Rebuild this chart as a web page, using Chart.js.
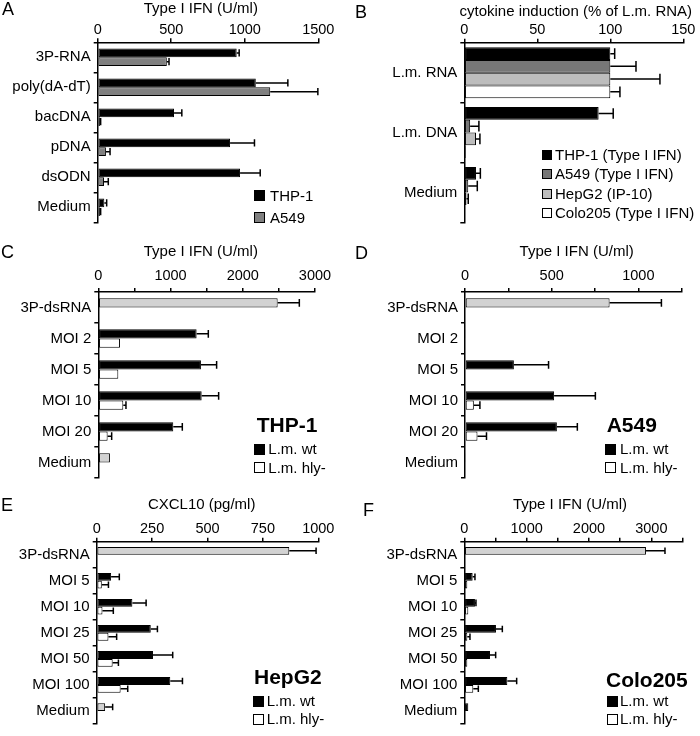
<!DOCTYPE html>
<html>
<head>
<meta charset="utf-8">
<script src="https://cdn.jsdelivr.net/npm/chart.js@4.4.0/dist/chart.umd.min.js"></script>
<style>
  body { margin: 0; background: #fff; width: 700px; height: 736px; overflow: hidden; position: relative;
         font-family: 'Liberation Sans', Arial, sans-serif; color: #000; }
  canvas { position: absolute; }
  .letter { position: absolute; font-size: 18px; line-height: 18px; }
  .title { position: absolute; width: 300px; text-align: center; font-size: 15px; line-height: 18px; white-space: nowrap; }
  .cell { position: absolute; font-size: 21px; font-weight: bold; line-height: 24px; white-space: nowrap; }
  .key { position: absolute; font-size: 15px; line-height: 18px; white-space: nowrap; }
  .sw { position: absolute; width: 9px; height: 9px; border: 1px solid #000; }
</style>
</head>
<body>
<canvas id="chartA" width="350" height="235" style="left:0;top:0"></canvas>
<canvas id="chartB" width="350" height="235" style="left:350px;top:0"></canvas>
<canvas id="chartC" width="350" height="250" style="left:0;top:240px"></canvas>
<canvas id="chartD" width="350" height="250" style="left:350px;top:240px"></canvas>
<canvas id="chartE" width="350" height="246" style="left:0;top:490px"></canvas>
<canvas id="chartF" width="350" height="246" style="left:350px;top:490px"></canvas>

<div class="letter" style="left:2px;top:0">A</div>
<div class="letter" style="left:355px;top:3px">B</div>
<div class="letter" style="left:1px;top:243px">C</div>
<div class="letter" style="left:355px;top:244px">D</div>
<div class="letter" style="left:1px;top:496px">E</div>
<div class="letter" style="left:363px;top:501px">F</div>

<script>
// ---- Panel A: Type I IFN (U/ml), THP-1 vs A549
const catsA = ['3P-RNA', 'poly(dA-dT)', 'bacDNA', 'pDNA', 'dsODN', 'Medium'];
const thp1A = [945, 1075, 519, 900, 968, 45];
const thp1ASd = [17, 218, 53, 166, 137, 16];
const a549A = [470, 1173, 15, 56, 43, 15];
const a549ASd = [15, 324, 5, 28, 29, 5];

// ---- Panel B: cytokine induction (% of L.m. RNA)
const catsB = ['L.m. RNA', 'L.m. DNA', 'Medium'];
const thp1B = [100, 92, 8];
const thp1BSd = [3, 10, 3];
const a549B = [100, 4, 2.7];
const a549BSd = [17.6, 6, 6.2];
const hepg2B = [100, 8, 1.5];
const hepg2BSd = [34, 2.7, 1.2];
const colo205B = [100, 1, 0.5];
const colo205BSd = [6.6, 0, 0];

// ---- Panel C: THP-1, Type I IFN (U/ml)
const catsC = ['3P-dsRNA', 'MOI 2', 'MOI 5', 'MOI 10', 'MOI 20', 'Medium'];
const wtC = [2483, 1361, 1421, 1431, 1038, 161];
const wtCSd = [300, 162, 217, 235, 125, 0];
const hlyC = [null, 300, 277, 346, 129, null];
const hlyCSd = [null, 0, 0, 37, 56, null];

// ---- Panel D: A549, Type I IFN (U/ml)
const catsD = ['3P-dsRNA', 'MOI 2', 'MOI 5', 'MOI 10', 'MOI 20', 'Medium'];
const wtD = [834, 3, 282, 514, 530, 3];
const wtDSd = [299, 0, 200, 238, 118, 0];
const hlyD = [null, 0, 0, 51, 72, null];
const hlyDSd = [null, 0, 0, 35, 52, null];

// ---- Panel E: HepG2, CXCL10 (pg/ml)
const catsE = ['3P-dsRNA', 'MOI 5', 'MOI 10', 'MOI 25', 'MOI 50', 'MOI 100', 'Medium'];
const wtE = [869, 65, 161, 244, 254, 332, 38];
const wtESd = [121, 37, 62, 30, 89, 55, 34];
const hlyE = [null, 23, 26, 53, 72, 108, null];
const hlyESd = [null, 30, 49, 37, 26, 32, null];

// ---- Panel F: Colo205, Type I IFN (U/ml)
const catsF = ['3P-dsRNA', 'MOI 5', 'MOI 10', 'MOI 25', 'MOI 50', 'MOI 100', 'Medium'];
const wtF = [2914, 134, 171, 508, 412, 690, 64];
const wtFSd = [305, 37, 16, 102, 91, 150, 0];
const hlyF = [null, 48, 64, 48, 48, 144, null];
const hlyFSd = [null, 0, 0, 43, 0, 81, null];

Chart.defaults.font.family = "'Liberation Sans', Arial, sans-serif";
Chart.defaults.color = '#000';
Chart.defaults.animation = false;

// horizontal error bars: line from the bar end out to value + sd, with a cap
const errorBars = {
  id: 'errorBars',
  afterDatasetsDraw(chart) {
    const ctx = chart.ctx;
    const xs = chart.scales.x;
    ctx.save();
    ctx.strokeStyle = '#000';
    ctx.lineWidth = 1.5;
    chart.data.datasets.forEach((ds, i) => {
      if (!ds.errors) return;
      chart.getDatasetMeta(i).data.forEach((bar, j) => {
        const v = ds.data[j], sd = ds.errors[j];
        if (v == null || !sd) return;
        const x1 = xs.getPixelForValue(v + sd);
        const half = bar.height * 0.42;
        ctx.beginPath();
        ctx.moveTo(bar.x, bar.y);
        ctx.lineTo(x1, bar.y);
        ctx.moveTo(x1, bar.y - half);
        ctx.lineTo(x1, bar.y + half);
        ctx.stroke();
      });
    });
    ctx.restore();
  }
};

function panel(id, cfg) {
  new Chart(document.getElementById(id), {
    type: 'bar',
    data: { labels: cfg.labels, datasets: cfg.datasets },
    options: {
      indexAxis: 'y',
      responsive: false,
      events: [],
      layout: { padding: { left: 0, top: 0, right: cfg.padRight, bottom: cfg.padBottom } },
      datasets: {
        bar: { categoryPercentage: cfg.catPct, barPercentage: 1, borderWidth: 1, borderColor: '#000', borderSkipped: false }
      },
      plugins: { legend: { display: false }, tooltip: { enabled: false } },
      scales: {
        x: {
          position: 'top',
          min: 0,
          max: cfg.max,
          afterFit: s => { s.height = cfg.axisTop; },
          border: { color: '#000', width: 1.5 },
          grid: { drawOnChartArea: false, color: '#000', lineWidth: 1.5, tickLength: 4 },
          ticks: {
            stepSize: cfg.step,
            autoSkip: false,
            maxRotation: 0,
            padding: cfg.tickPad,
            font: { size: 14.5 },
            callback: v => (v % cfg.labelStep === 0 ? v : '')
          }
        },
        y: {
          afterFit: s => { s.width = cfg.axisLeft; },
          border: { color: '#000', width: 1.5 },
          grid: { offset: true, drawOnChartArea: false, color: '#000', lineWidth: 1.5, tickLength: 4 },
          ticks: { autoSkip: false, padding: 3, font: { size: 15 } }
        }
      }
    },
    plugins: [errorBars]
  });
}

// first series is black except the control rows, which are light grey
function wtColors(values, greyRows, grey) {
  return values.map((v, i) => (greyRows.includes(i) ? grey : '#000'));
}

function pairSets(wt, wtSd, hly, hlySd, greyRows) {
  return [
    { label: 'L.m. wt', data: wt, errors: wtSd, backgroundColor: wtColors(wt, greyRows, '#d2d2d2') },
    { label: 'L.m. hly-', data: hly, errors: hlySd, backgroundColor: '#fff' }
  ];
}

panel('chartA', {
  labels: catsA,
  datasets: [
    { label: 'THP-1', data: thp1A, errors: thp1ASd, backgroundColor: '#000' },
    { label: 'A549', data: a549A, errors: a549ASd, backgroundColor: '#808080' }
  ],
  max: 1500, step: 500, labelStep: 500,
  axisLeft: 97.7, axisTop: 42.3, padRight: 31.7, padBottom: 12.7,
  catPct: 0.58, tickPad: 0
});

panel('chartB', {
  labels: catsB,
  datasets: [
    { label: 'THP-1 (Type I IFN)', data: thp1B, errors: thp1BSd, backgroundColor: '#000' },
    { label: 'A549 (Type I IFN)', data: a549B, errors: a549BSd, backgroundColor: '#777' },
    { label: 'HepG2 (IP-10)', data: hepg2B, errors: hepg2BSd, backgroundColor: '#bdbdbd' },
    { label: 'Colo205 (Type I IFN)', data: colo205B, errors: colo205BSd, backgroundColor: '#fff' }
  ],
  max: 150, step: 50, labelStep: 50,
  axisLeft: 114.3, axisTop: 42.8, padRight: 16.7, padBottom: 12.7,
  catPct: 0.85, tickPad: 0
});

panel('chartC', {
  labels: catsC,
  datasets: pairSets(wtC, wtCSd, hlyC, hlyCSd, [0, 5]),
  max: 3000, step: 500, labelStep: 1000,
  axisLeft: 98.3, axisTop: 52, padRight: 35, padBottom: 8,
  catPct: 0.6, tickPad: 3
});

panel('chartD', {
  labels: catsD,
  datasets: pairSets(wtD, wtDSd, hlyD, hlyDSd, [0]),
  max: 1250, step: 250, labelStep: 500,
  axisLeft: 115, axisTop: 52, padRight: 18.3, padBottom: 8,
  catPct: 0.6, tickPad: 3
});

panel('chartE', {
  labels: catsE,
  datasets: pairSets(wtE, wtESd, hlyE, hlyESd, [0, 6]),
  max: 1000, step: 250, labelStep: 250,
  axisLeft: 96.7, axisTop: 51.7, padRight: 31.7, padBottom: 1.8,
  catPct: 0.6, tickPad: 0
});

panel('chartF', {
  labels: catsF,
  datasets: pairSets(wtF, wtFSd, hlyF, hlyFSd, [0]),
  max: 3500, step: 500, labelStep: 1000,
  axisLeft: 114.3, axisTop: 51.7, padRight: 17.5, padBottom: 1.8,
  catPct: 0.6, tickPad: 0
});

// ---- axis titles and legends drawn as page text
function text(cls, x, top, str) {
  const d = document.createElement('div');
  d.className = cls;
  d.style.left = x + 'px';
  d.style.top = top + 'px';
  d.textContent = str;
  document.body.appendChild(d);
}
function swatch(x, yc, size, fill) {
  const d = document.createElement('div');
  d.className = 'sw';
  d.style.left = x + 'px';
  d.style.top = (yc - size / 2) + 'px';
  d.style.width = d.style.height = (size - 2) + 'px';
  d.style.background = fill;
  document.body.appendChild(d);
}
function key(sx, tx, yc, size, fill, str) {
  swatch(sx, yc, size, fill);
  text('key', tx, yc - 9, str);
}

// titles: centre x minus half the box width, top
text('title', 200.8 - 150, -1, 'Type I IFN (U/ml)');
text('title', 575.8 - 150, 1.6, 'cytokine induction (% of L.m. RNA)');
text('title', 200.8 - 150, 242.3, 'Type I IFN (U/ml)');
text('title', 576.7 - 150, 242.3, 'Type I IFN (U/ml)');
text('title', 201.7 - 150, 494.9, 'CXCL10 (pg/ml)');
text('title', 570 - 150, 494.9, 'Type I IFN (U/ml)');

key(254, 270, 195.5, 11, '#000', 'THP-1');
key(254, 270, 217.5, 11, '#808080', 'A549');

key(542, 555, 155, 10, '#000', 'THP-1 (Type I IFN)');
key(542, 555, 174.3, 10, '#777', 'A549 (Type I IFN)');
key(542, 555, 194.3, 10, '#bdbdbd', 'HepG2 (IP-10)');
key(542, 555, 213.3, 10, '#fff', 'Colo205 (Type I IFN)');

const cellPanels = [
  { name: 'THP-1', x: 256.7, yc: 425, sx: 254, tx: 268.3, y1: 449.3, y2: 467.7 },
  { name: 'A549', x: 606.7, yc: 425, sx: 605, tx: 620, y1: 449.3, y2: 467.7 },
  { name: 'HepG2', x: 254, yc: 677, sx: 252.7, tx: 266.7, y1: 701, y2: 719.3 },
  { name: 'Colo205', x: 606, yc: 680, sx: 606.7, tx: 620, y1: 701, y2: 719.3 }
];
cellPanels.forEach(p => {
  text('cell', p.x, p.yc - 12, p.name);
  key(p.sx, p.tx, p.y1, 11, '#000', 'L.m. wt');
  key(p.sx, p.tx, p.y2, 11, '#fff', 'L.m. hly-');
});
</script>
</body>
</html>
